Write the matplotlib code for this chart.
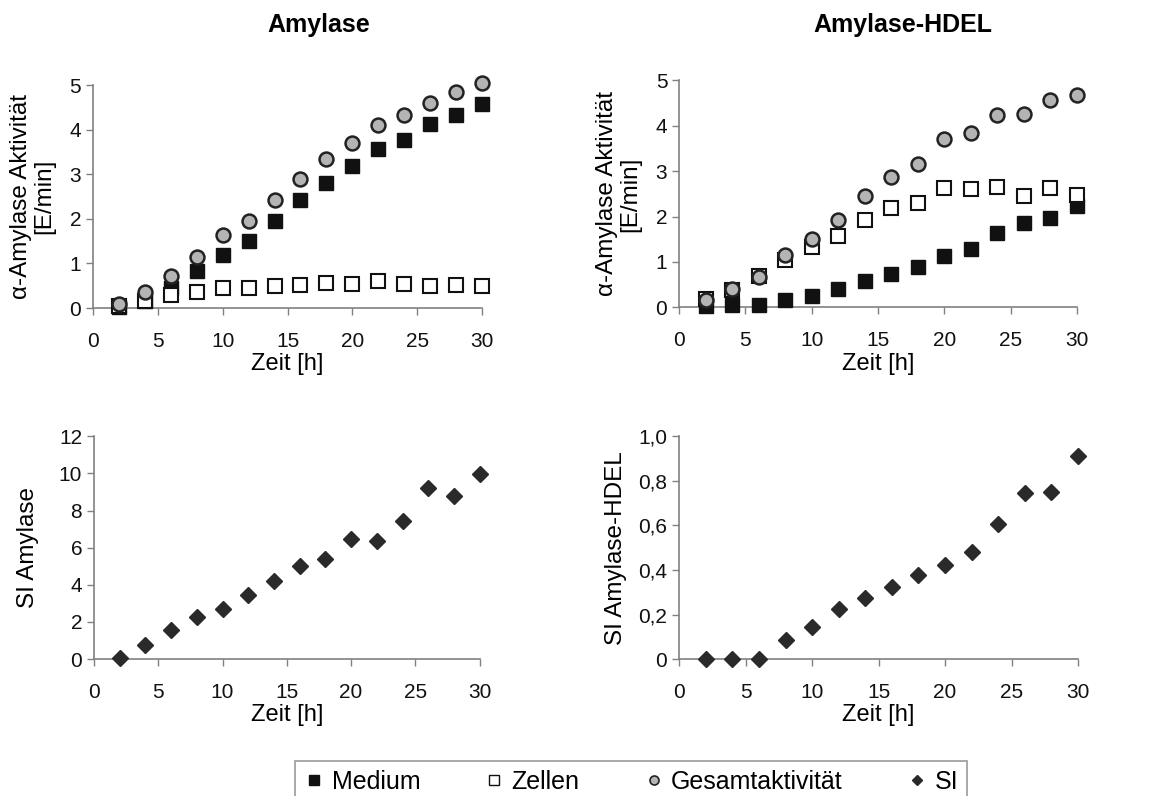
import numpy as np
import matplotlib.pyplot as plt
from matplotlib.lines import Line2D
from matplotlib.ticker import FuncFormatter

plt.rcParams['font.family'] = ['Liberation Sans', 'DejaVu Sans']

zeit = [2, 4, 6, 8, 10, 12, 14, 16, 18, 20, 22, 24, 26, 28, 30]

# Amylase
amy_medium = [0.02, 0.15, 0.45, 0.82, 1.18, 1.51, 1.96, 2.43, 2.80, 3.19, 3.56, 3.78, 4.14, 4.34, 4.57]
amy_zellen = [0.05, 0.15, 0.30, 0.37, 0.46, 0.46, 0.50, 0.51, 0.57, 0.54, 0.60, 0.54, 0.49, 0.51, 0.49]
amy_gesamt = [0.09, 0.35, 0.72, 1.14, 1.63, 1.96, 2.43, 2.90, 3.34, 3.71, 4.10, 4.32, 4.60, 4.85, 5.05]
amy_si = [0.05, 0.77, 1.57, 2.29, 2.70, 3.45, 4.22, 5.01, 5.38, 6.46, 6.37, 7.42, 9.21, 8.78, 9.98]

# Amylase-HDEL
hdel_medium = [0.03, 0.04, 0.04, 0.15, 0.25, 0.40, 0.57, 0.73, 0.88, 1.14, 1.28, 1.63, 1.85, 1.96, 2.24]
hdel_zellen = [0.18, 0.38, 0.69, 1.04, 1.32, 1.57, 1.92, 2.18, 2.29, 2.62, 2.60, 2.64, 2.46, 2.62, 2.47]
hdel_gesamt = [0.15, 0.40, 0.67, 1.15, 1.51, 1.92, 2.45, 2.86, 3.15, 3.70, 3.83, 4.23, 4.27, 4.56, 4.67]
hdel_si = [0.0, 0.0, 0.0, 0.084, 0.143, 0.225, 0.276, 0.325, 0.378, 0.422, 0.482, 0.606, 0.743, 0.748, 0.91]

labels = ['Medium', 'Zellen', 'Gesamtaktivität', 'SI']

FS = 15
GRID = '#808080'

sq_black = dict(marker='s', ms=10, color='#111111', mec='#111111', ls='none', clip_on=False, zorder=3)
sq_open = dict(marker='s', ms=10, mfc='white', mec='#111111', mew=1.5, ls='none', clip_on=False, zorder=4)
circ = dict(marker='o', ms=10, mfc='#b4b4b4', mec='#222222', mew=1.8, ls='none', clip_on=False, zorder=5)
diam = dict(marker='D', ms=8, color='#2a2a2a', mec='#2a2a2a', ls='none', clip_on=False, zorder=3)


def style_axes(ax):
    for s in ['top', 'right']:
        ax.spines[s].set_visible(False)
    for s in ['left', 'bottom']:
        ax.spines[s].set_color(GRID)
        ax.spines[s].set_linewidth(1.2)
    ax.tick_params(colors=GRID, labelcolor='#111111', labelsize=FS, length=5, width=1.0)
    ax.tick_params(axis='x', pad=12)
    ax.set_xlim(0, 30)
    ax.set_xticks(range(0, 31, 5))
    ax.set_xlabel('Zeit [h]', fontsize=FS + 2, labelpad=2)


fig = plt.figure(figsize=(11.53, 7.96), dpi=100)

ax1 = fig.add_axes([0.0807, 0.613, 0.3373, 0.280])
ax2 = fig.add_axes([0.589, 0.614, 0.345, 0.285])
ax3 = fig.add_axes([0.0815, 0.172, 0.3345, 0.280])
ax4 = fig.add_axes([0.589, 0.172, 0.346, 0.280])

for ax, med, zel, ges in [(ax1, amy_medium, amy_zellen, amy_gesamt),
                          (ax2, hdel_medium, hdel_zellen, hdel_gesamt)]:
    ax.plot(zeit, med, **sq_black)
    ax.plot(zeit, zel, **sq_open)
    ax.plot(zeit, ges, **circ)
    style_axes(ax)
    ax.set_ylim(0, 5)
    ax.set_yticks(range(0, 6))
    ax.set_ylabel('α-Amylase Aktivität\n[E/min]', fontsize=FS + 2.5, linespacing=1.1, labelpad=10)

ax3.plot(zeit, amy_si, **diam)
style_axes(ax3)
ax3.set_ylim(0, 12)
ax3.set_yticks(range(0, 13, 2))
ax3.set_ylabel('SI Amylase', fontsize=FS + 2.5, labelpad=14)

ax4.plot(zeit, hdel_si, **diam)
style_axes(ax4)
ax4.set_ylim(0, 1.0)
ax4.set_yticks(np.arange(0, 1.01, 0.2))
ax4.yaxis.set_major_formatter(FuncFormatter(lambda v, p: '0' if v == 0 else f'{v:.1f}'.replace('.', ',')))
ax4.set_ylabel('SI Amylase-HDEL', fontsize=FS + 2.5, labelpad=8)

fig.text(0.2767, 0.960, 'Amylase', ha='center', va='baseline', fontsize=18, fontweight='bold')
fig.text(0.783, 0.960, 'Amylase-HDEL', ha='center', va='baseline', fontsize=18, fontweight='bold')

handles = [
    Line2D([], [], marker='s', ms=6.5, color='#111111', ls='none'),
    Line2D([], [], marker='s', ms=6.5, mfc='white', mec='#111111', mew=1.0, ls='none'),
    Line2D([], [], marker='o', ms=6.5, mfc='#b4b4b4', mec='#222222', mew=1.2, ls='none'),
    Line2D([], [], marker='D', ms=5.5, color='#2a2a2a', ls='none'),
]
leg = fig.legend(handles, labels,
                 loc='upper center', bbox_to_anchor=(0.5473, 1 - 761 / 796), ncol=4,
                 fontsize=18, frameon=True, fancybox=False, borderaxespad=0,
                 handletextpad=0.3, columnspacing=2.56, handlelength=0.8, borderpad=0.35)
leg.get_frame().set_edgecolor(GRID)
leg.get_frame().set_linewidth(1.2)

fig.savefig('out.png', dpi=100)
